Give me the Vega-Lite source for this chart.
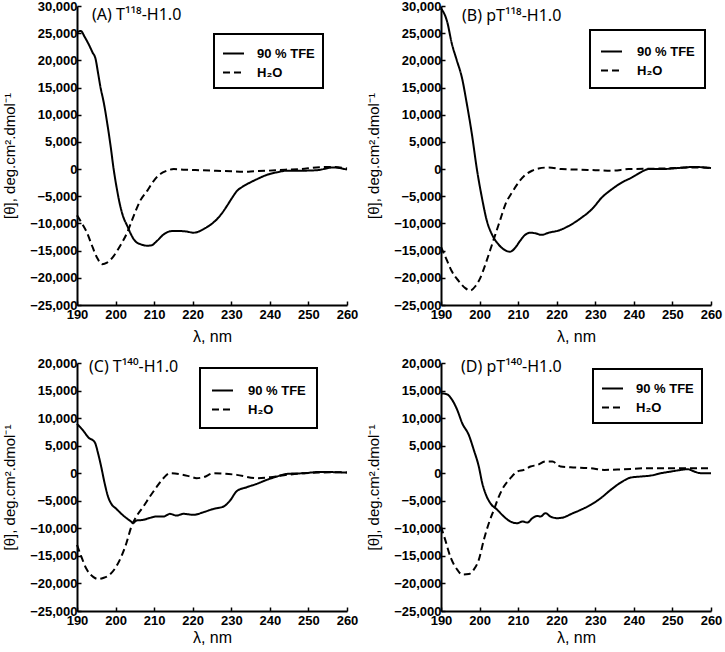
{
  "$schema": "https://vega.github.io/schema/vega-lite/v6.json",
  "padding": {"left": 2, "top": 0, "right": 2, "bottom": 2},
  "background": "white",
  "datasets": {
    "A": [
      {"series": "90 % TFE", "wl": 190, "theta": 25200}, {"series": "90 % TFE", "wl": 191, "theta": 25400}, {"series": "90 % TFE", "wl": 192, "theta": 24300}, {"series": "90 % TFE", "wl": 193, "theta": 23000}, {"series": "90 % TFE", "wl": 194, "theta": 21500}, {"series": "90 % TFE", "wl": 194.8, "theta": 20300}, {"series": "90 % TFE", "wl": 195.5, "theta": 17500}, {"series": "90 % TFE", "wl": 196, "theta": 15400}, {"series": "90 % TFE", "wl": 197, "theta": 12000}, {"series": "90 % TFE", "wl": 197.8, "theta": 8600}, {"series": "90 % TFE", "wl": 198.7, "theta": 4300}, {"series": "90 % TFE", "wl": 199.5, "theta": 0}, {"series": "90 % TFE", "wl": 200.3, "theta": -3500}, {"series": "90 % TFE", "wl": 201.2, "theta": -6750}, {"series": "90 % TFE", "wl": 202, "theta": -8800}, {"series": "90 % TFE", "wl": 203, "theta": -10400}, {"series": "90 % TFE", "wl": 204, "theta": -12000}, {"series": "90 % TFE", "wl": 204.7, "theta": -12900}, {"series": "90 % TFE", "wl": 205.5, "theta": -13500}, {"series": "90 % TFE", "wl": 206.4, "theta": -13800}, {"series": "90 % TFE", "wl": 207.3, "theta": -14000}, {"series": "90 % TFE", "wl": 208.2, "theta": -14100}, {"series": "90 % TFE", "wl": 209.4, "theta": -14000}, {"series": "90 % TFE", "wl": 210.3, "theta": -13500}, {"series": "90 % TFE", "wl": 211.2, "theta": -12900}, {"series": "90 % TFE", "wl": 212, "theta": -12300}, {"series": "90 % TFE", "wl": 212.9, "theta": -11800}, {"series": "90 % TFE", "wl": 213.8, "theta": -11500}, {"series": "90 % TFE", "wl": 214.6, "theta": -11400}, {"series": "90 % TFE", "wl": 216.8, "theta": -11400}, {"series": "90 % TFE", "wl": 218.5, "theta": -11500}, {"series": "90 % TFE", "wl": 220.2, "theta": -11700}, {"series": "90 % TFE", "wl": 221.5, "theta": -11500}, {"series": "90 % TFE", "wl": 222.8, "theta": -11050}, {"series": "90 % TFE", "wl": 224.5, "theta": -10300}, {"series": "90 % TFE", "wl": 226.3, "theta": -9200}, {"series": "90 % TFE", "wl": 227.6, "theta": -8100}, {"series": "90 % TFE", "wl": 228.9, "theta": -6750}, {"series": "90 % TFE", "wl": 230.2, "theta": -5300}, {"series": "90 % TFE", "wl": 231.5, "theta": -4000}, {"series": "90 % TFE", "wl": 232.8, "theta": -3300}, {"series": "90 % TFE", "wl": 234.1, "theta": -2760}, {"series": "90 % TFE", "wl": 236.7, "theta": -1840}, {"series": "90 % TFE", "wl": 239.3, "theta": -1040}, {"series": "90 % TFE", "wl": 241.8, "theta": -600}, {"series": "90 % TFE", "wl": 244.4, "theta": -300}, {"series": "90 % TFE", "wl": 247.9, "theta": -300}, {"series": "90 % TFE", "wl": 252.2, "theta": -200}, {"series": "90 % TFE", "wl": 256.5, "theta": 300}, {"series": "90 % TFE", "wl": 258, "theta": 200}, {"series": "90 % TFE", "wl": 260, "theta": -100},
      {"series": "H₂O", "wl": 190, "theta": -8500}, {"series": "H₂O", "wl": 191.3, "theta": -10000}, {"series": "H₂O", "wl": 192.6, "theta": -11700}, {"series": "H₂O", "wl": 193.9, "theta": -14100}, {"series": "H₂O", "wl": 195.2, "theta": -16300}, {"series": "H₂O", "wl": 196.5, "theta": -17500}, {"series": "H₂O", "wl": 197.8, "theta": -17200}, {"series": "H₂O", "wl": 199.5, "theta": -16000}, {"series": "H₂O", "wl": 201.2, "theta": -14100}, {"series": "H₂O", "wl": 203, "theta": -11700}, {"series": "H₂O", "wl": 204.7, "theta": -8600}, {"series": "H₂O", "wl": 206.4, "theta": -5800}, {"series": "H₂O", "wl": 208.2, "theta": -4000}, {"series": "H₂O", "wl": 209.9, "theta": -2150}, {"series": "H₂O", "wl": 211.6, "theta": -900}, {"series": "H₂O", "wl": 213.3, "theta": -300}, {"series": "H₂O", "wl": 215.1, "theta": 0}, {"series": "H₂O", "wl": 218, "theta": -100}, {"series": "H₂O", "wl": 222, "theta": -200}, {"series": "H₂O", "wl": 226, "theta": -300}, {"series": "H₂O", "wl": 230, "theta": -400}, {"series": "H₂O", "wl": 233.2, "theta": -500}, {"series": "H₂O", "wl": 236, "theta": -400}, {"series": "H₂O", "wl": 239.3, "theta": -300}, {"series": "H₂O", "wl": 244, "theta": -100}, {"series": "H₂O", "wl": 248, "theta": 0}, {"series": "H₂O", "wl": 252, "theta": 300}, {"series": "H₂O", "wl": 256.5, "theta": 400}, {"series": "H₂O", "wl": 260, "theta": 100}
    ],
    "B": [
      {"series": "90 % TFE", "wl": 190, "theta": 29500}, {"series": "90 % TFE", "wl": 190.3, "theta": 29250}, {"series": "90 % TFE", "wl": 191.6, "theta": 27100}, {"series": "90 % TFE", "wl": 192.8, "theta": 23100}, {"series": "90 % TFE", "wl": 194.1, "theta": 20000}, {"series": "90 % TFE", "wl": 195.4, "theta": 16900}, {"series": "90 % TFE", "wl": 196.7, "theta": 12000}, {"series": "90 % TFE", "wl": 198, "theta": 6470}, {"series": "90 % TFE", "wl": 199.3, "theta": 0}, {"series": "90 % TFE", "wl": 200.6, "theta": -5230}, {"series": "90 % TFE", "wl": 201.9, "theta": -9550}, {"series": "90 % TFE", "wl": 203.2, "theta": -12000}, {"series": "90 % TFE", "wl": 204.9, "theta": -13850}, {"series": "90 % TFE", "wl": 206.7, "theta": -14960}, {"series": "90 % TFE", "wl": 207.9, "theta": -15200}, {"series": "90 % TFE", "wl": 209.2, "theta": -14500}, {"series": "90 % TFE", "wl": 210.5, "theta": -13200}, {"series": "90 % TFE", "wl": 211.8, "theta": -12100}, {"series": "90 % TFE", "wl": 213.1, "theta": -11700}, {"series": "90 % TFE", "wl": 214.4, "theta": -11800}, {"series": "90 % TFE", "wl": 216.1, "theta": -12100}, {"series": "90 % TFE", "wl": 217.9, "theta": -11700}, {"series": "90 % TFE", "wl": 220.5, "theta": -11300}, {"series": "90 % TFE", "wl": 223, "theta": -10500}, {"series": "90 % TFE", "wl": 226.5, "theta": -8900}, {"series": "90 % TFE", "wl": 229.1, "theta": -7400}, {"series": "90 % TFE", "wl": 231.7, "theta": -5230}, {"series": "90 % TFE", "wl": 234.3, "theta": -3700}, {"series": "90 % TFE", "wl": 236.9, "theta": -2460}, {"series": "90 % TFE", "wl": 239.5, "theta": -1540}, {"series": "90 % TFE", "wl": 242, "theta": -500}, {"series": "90 % TFE", "wl": 243.8, "theta": 0}, {"series": "90 % TFE", "wl": 247.2, "theta": 0}, {"series": "90 % TFE", "wl": 251.5, "theta": 200}, {"series": "90 % TFE", "wl": 255.8, "theta": 400}, {"series": "90 % TFE", "wl": 258.4, "theta": 300}, {"series": "90 % TFE", "wl": 260, "theta": 200},
      {"series": "H₂O", "wl": 190, "theta": -14300}, {"series": "H₂O", "wl": 191.6, "theta": -16900}, {"series": "H₂O", "wl": 192.8, "theta": -18800}, {"series": "H₂O", "wl": 194.6, "theta": -20600}, {"series": "H₂O", "wl": 196.3, "theta": -21900}, {"series": "H₂O", "wl": 197.6, "theta": -22350}, {"series": "H₂O", "wl": 198.9, "theta": -21550}, {"series": "H₂O", "wl": 200.2, "theta": -20000}, {"series": "H₂O", "wl": 201.5, "theta": -17550}, {"series": "H₂O", "wl": 202.8, "theta": -14800}, {"series": "H₂O", "wl": 204.1, "theta": -12000}, {"series": "H₂O", "wl": 205.4, "theta": -9240}, {"series": "H₂O", "wl": 206.7, "theta": -6470}, {"series": "H₂O", "wl": 208.4, "theta": -4310}, {"series": "H₂O", "wl": 210.1, "theta": -2460}, {"series": "H₂O", "wl": 211.8, "theta": -1100}, {"series": "H₂O", "wl": 213.6, "theta": -300}, {"series": "H₂O", "wl": 215.3, "theta": 100}, {"series": "H₂O", "wl": 217.9, "theta": 300}, {"series": "H₂O", "wl": 221.3, "theta": 0}, {"series": "H₂O", "wl": 226, "theta": -100}, {"series": "H₂O", "wl": 230, "theta": -200}, {"series": "H₂O", "wl": 234.3, "theta": -300}, {"series": "H₂O", "wl": 238.6, "theta": 0}, {"series": "H₂O", "wl": 247.2, "theta": 100}, {"series": "H₂O", "wl": 255.8, "theta": 300}, {"series": "H₂O", "wl": 260, "theta": 200}
    ],
    "C": [
      {"series": "90 % TFE", "wl": 190, "theta": 8950}, {"series": "90 % TFE", "wl": 191.6, "theta": 7740}, {"series": "90 % TFE", "wl": 192.9, "theta": 6530}, {"series": "90 % TFE", "wl": 194.6, "theta": 5620}, {"series": "90 % TFE", "wl": 195.5, "theta": 3500}, {"series": "90 % TFE", "wl": 196.3, "theta": 1090}, {"series": "90 % TFE", "wl": 197.2, "theta": -1930}, {"series": "90 % TFE", "wl": 198.1, "theta": -4350}, {"series": "90 % TFE", "wl": 198.9, "theta": -5560}, {"series": "90 % TFE", "wl": 200.2, "theta": -6470}, {"series": "90 % TFE", "wl": 202, "theta": -7680}, {"series": "90 % TFE", "wl": 203.7, "theta": -8590}, {"series": "90 % TFE", "wl": 204.6, "theta": -9000}, {"series": "90 % TFE", "wl": 205.4, "theta": -8590}, {"series": "90 % TFE", "wl": 207.2, "theta": -8460}, {"series": "90 % TFE", "wl": 208.9, "theta": -8100}, {"series": "90 % TFE", "wl": 210.6, "theta": -7860}, {"series": "90 % TFE", "wl": 212.4, "theta": -7860}, {"series": "90 % TFE", "wl": 214.1, "theta": -7370}, {"series": "90 % TFE", "wl": 215.8, "theta": -7680}, {"series": "90 % TFE", "wl": 217.6, "theta": -7370}, {"series": "90 % TFE", "wl": 220.2, "theta": -7550}, {"series": "90 % TFE", "wl": 222.8, "theta": -7070}, {"series": "90 % TFE", "wl": 225.4, "theta": -6470}, {"series": "90 % TFE", "wl": 228, "theta": -6040}, {"series": "90 % TFE", "wl": 229.7, "theta": -4950}, {"series": "90 % TFE", "wl": 231.4, "theta": -3260}, {"series": "90 % TFE", "wl": 234, "theta": -2540}, {"series": "90 % TFE", "wl": 236.6, "theta": -1930}, {"series": "90 % TFE", "wl": 239.2, "theta": -1210}, {"series": "90 % TFE", "wl": 241.8, "theta": -600}, {"series": "90 % TFE", "wl": 244.4, "theta": -120}, {"series": "90 % TFE", "wl": 248.8, "theta": 0}, {"series": "90 % TFE", "wl": 253.1, "theta": 240}, {"series": "90 % TFE", "wl": 257.4, "theta": 180}, {"series": "90 % TFE", "wl": 260, "theta": 120},
      {"series": "H₂O", "wl": 190, "theta": -13000}, {"series": "H₂O", "wl": 191.1, "theta": -15100}, {"series": "H₂O", "wl": 192.4, "theta": -17300}, {"series": "H₂O", "wl": 194.2, "theta": -18800}, {"series": "H₂O", "wl": 195.5, "theta": -19200}, {"series": "H₂O", "wl": 196.8, "theta": -19000}, {"series": "H₂O", "wl": 198.5, "theta": -18400}, {"series": "H₂O", "wl": 200.2, "theta": -16900}, {"series": "H₂O", "wl": 201.5, "theta": -15100}, {"series": "H₂O", "wl": 202.8, "theta": -12700}, {"series": "H₂O", "wl": 204.1, "theta": -9700}, {"series": "H₂O", "wl": 205.4, "theta": -7860}, {"series": "H₂O", "wl": 207.2, "theta": -6050}, {"series": "H₂O", "wl": 208.9, "theta": -4230}, {"series": "H₂O", "wl": 210.6, "theta": -2540}, {"series": "H₂O", "wl": 212.4, "theta": -900}, {"series": "H₂O", "wl": 214.1, "theta": 0}, {"series": "H₂O", "wl": 216.7, "theta": -180}, {"series": "H₂O", "wl": 219.3, "theta": -600}, {"series": "H₂O", "wl": 221, "theta": -900}, {"series": "H₂O", "wl": 222.8, "theta": -720}, {"series": "H₂O", "wl": 225.4, "theta": 0}, {"series": "H₂O", "wl": 231.4, "theta": -300}, {"series": "H₂O", "wl": 236.6, "theta": -900}, {"series": "H₂O", "wl": 240.1, "theta": -720}, {"series": "H₂O", "wl": 244.4, "theta": -300}, {"series": "H₂O", "wl": 248.8, "theta": 0}, {"series": "H₂O", "wl": 257.4, "theta": 180}, {"series": "H₂O", "wl": 260, "theta": 120}
    ],
    "D": [
      {"series": "90 % TFE", "wl": 190, "theta": 14500}, {"series": "90 % TFE", "wl": 191.6, "theta": 14300}, {"series": "90 % TFE", "wl": 192.9, "theta": 13300}, {"series": "90 % TFE", "wl": 194.2, "theta": 11500}, {"series": "90 % TFE", "wl": 195.5, "theta": 9070}, {"series": "90 % TFE", "wl": 197.2, "theta": 6950}, {"series": "90 % TFE", "wl": 198.5, "theta": 4230}, {"series": "90 % TFE", "wl": 199.8, "theta": 1210}, {"series": "90 % TFE", "wl": 200.7, "theta": -1810}, {"series": "90 % TFE", "wl": 201.5, "theta": -3630}, {"series": "90 % TFE", "wl": 202.8, "theta": -5440}, {"series": "90 % TFE", "wl": 204.6, "theta": -6650}, {"series": "90 % TFE", "wl": 206.3, "theta": -7860}, {"series": "90 % TFE", "wl": 208, "theta": -8770}, {"series": "90 % TFE", "wl": 209.8, "theta": -9070}, {"series": "90 % TFE", "wl": 211.1, "theta": -8770}, {"series": "90 % TFE", "wl": 212.4, "theta": -8950}, {"series": "90 % TFE", "wl": 213.7, "theta": -8160}, {"series": "90 % TFE", "wl": 215, "theta": -7740}, {"series": "90 % TFE", "wl": 215.8, "theta": -7860}, {"series": "90 % TFE", "wl": 217.1, "theta": -7260}, {"series": "90 % TFE", "wl": 218.4, "theta": -7860}, {"series": "90 % TFE", "wl": 220.2, "theta": -8160}, {"series": "90 % TFE", "wl": 221.9, "theta": -7980}, {"series": "90 % TFE", "wl": 223.6, "theta": -7440}, {"series": "90 % TFE", "wl": 226.2, "theta": -6650}, {"series": "90 % TFE", "wl": 228.8, "theta": -5740}, {"series": "90 % TFE", "wl": 231.4, "theta": -4530}, {"series": "90 % TFE", "wl": 234, "theta": -3020}, {"series": "90 % TFE", "wl": 236.6, "theta": -1690}, {"series": "90 % TFE", "wl": 239.2, "theta": -790}, {"series": "90 % TFE", "wl": 241.8, "theta": -600}, {"series": "90 % TFE", "wl": 244.4, "theta": -420}, {"series": "90 % TFE", "wl": 247, "theta": 0}, {"series": "90 % TFE", "wl": 249.6, "theta": 300}, {"series": "90 % TFE", "wl": 252.2, "theta": 600}, {"series": "90 % TFE", "wl": 254, "theta": 730}, {"series": "90 % TFE", "wl": 255.7, "theta": 300}, {"series": "90 % TFE", "wl": 257.4, "theta": 0}, {"series": "90 % TFE", "wl": 260, "theta": 0},
      {"series": "H₂O", "wl": 190, "theta": -9700}, {"series": "H₂O", "wl": 191.1, "theta": -12100}, {"series": "H₂O", "wl": 192.4, "theta": -15100}, {"series": "H₂O", "wl": 194.2, "theta": -17500}, {"series": "H₂O", "wl": 195.5, "theta": -18400}, {"series": "H₂O", "wl": 197.2, "theta": -18300}, {"series": "H₂O", "wl": 198.5, "theta": -17500}, {"series": "H₂O", "wl": 199.8, "theta": -15700}, {"series": "H₂O", "wl": 201.1, "theta": -12100}, {"series": "H₂O", "wl": 202.4, "theta": -9070}, {"series": "H₂O", "wl": 203.7, "theta": -6650}, {"series": "H₂O", "wl": 205, "theta": -4230}, {"series": "H₂O", "wl": 206.3, "theta": -2420}, {"series": "H₂O", "wl": 208, "theta": -900}, {"series": "H₂O", "wl": 209.8, "theta": 300}, {"series": "H₂O", "wl": 211.5, "theta": 600}, {"series": "H₂O", "wl": 213.2, "theta": 1210}, {"series": "H₂O", "wl": 215, "theta": 1510}, {"series": "H₂O", "wl": 217.1, "theta": 2120}, {"series": "H₂O", "wl": 218.9, "theta": 2120}, {"series": "H₂O", "wl": 221, "theta": 1210}, {"series": "H₂O", "wl": 223.6, "theta": 1090}, {"series": "H₂O", "wl": 228.8, "theta": 900}, {"series": "H₂O", "wl": 232.3, "theta": 600}, {"series": "H₂O", "wl": 237.5, "theta": 730}, {"series": "H₂O", "wl": 243.6, "theta": 900}, {"series": "H₂O", "wl": 247.9, "theta": 900}, {"series": "H₂O", "wl": 252.2, "theta": 900}, {"series": "H₂O", "wl": 256.5, "theta": 900}, {"series": "H₂O", "wl": 260, "theta": 900}
    ]
  },
  "vconcat": [
    {
      "hconcat": [
        {
          "width": 270, "height": 299,
          "title": {"text": "(A) T¹¹⁸-H1.0", "anchor": "start", "frame": "group", "orient": "top", "offset": -36, "baseline": "alphabetic", "dx": 15},
          "data": {"name": "A"},
          "mark": {"type": "line", "color": "black", "strokeWidth": 2, "interpolate": "monotone"},
          "encoding": {
            "x": {"field": "wl", "type": "quantitative", "scale": {"domain": [190, 260], "nice": false, "zero": false}, "axis": {"values": [190, 200, 210, 220, 230, 240, 250, 260], "title": "λ, nm", "titlePadding": 7}},
            "y": {"field": "theta", "type": "quantitative", "scale": {"domain": [-25000, 30000], "nice": false}, "axis": {"values": [-25000, -20000, -15000, -10000, -5000, 0, 5000, 10000, 15000, 20000, 25000, 30000], "format": ",d", "title": "[θ], deg.cm².dmol⁻¹"}},
            "strokeDash": {"field": "series", "type": "nominal", "scale": {"domain": ["90 % TFE", "H₂O"], "range": [[1, 0], [7, 4]]}, "legend": {"legendX": 137, "legendY": 28}}
          }
        },
        {
          "width": 270, "height": 299,
          "title": {"text": "(B) pT¹¹⁸-H1.0", "anchor": "start", "frame": "group", "orient": "top", "offset": -37, "baseline": "alphabetic", "dx": 21},
          "data": {"name": "B"},
          "mark": {"type": "line", "color": "black", "strokeWidth": 2, "interpolate": "monotone"},
          "encoding": {
            "x": {"field": "wl", "type": "quantitative", "scale": {"domain": [190, 260], "nice": false, "zero": false}, "axis": {"values": [190, 200, 210, 220, 230, 240, 250, 260], "title": "λ, nm", "titlePadding": 7}},
            "y": {"field": "theta", "type": "quantitative", "scale": {"domain": [-25000, 30000], "nice": false}, "axis": {"values": [-25000, -20000, -15000, -10000, -5000, 0, 5000, 10000, 15000, 20000, 25000, 30000], "format": ",d", "title": "[θ], deg.cm².dmol⁻¹"}},
            "strokeDash": {"field": "series", "type": "nominal", "scale": {"domain": ["90 % TFE", "H₂O"], "range": [[1, 0], [7, 4]]}, "legend": {"legendX": 149, "legendY": 24, "padding": 10, "labelOffset": 14}}
          }
        }
      ],
      "spacing": 94, "bounds": "flush",
      "resolve": {"scale": {"strokeDash": "independent"}, "legend": {"strokeDash": "independent"}}
    },
    {
      "hconcat": [
        {
          "width": 270, "height": 248,
          "title": {"text": "(C) T¹⁴⁰-H1.0", "anchor": "start", "frame": "group", "orient": "top", "offset": -31, "baseline": "alphabetic", "dx": 12},
          "data": {"name": "C"},
          "mark": {"type": "line", "color": "black", "strokeWidth": 2, "interpolate": "monotone"},
          "encoding": {
            "x": {"field": "wl", "type": "quantitative", "scale": {"domain": [190, 260], "nice": false, "zero": false}, "axis": {"values": [190, 200, 210, 220, 230, 240, 250, 260], "title": "λ, nm", "titlePadding": 2}},
            "y": {"field": "theta", "type": "quantitative", "scale": {"domain": [-25000, 20000], "nice": false}, "axis": {"values": [-25000, -20000, -15000, -10000, -5000, 0, 5000, 10000, 15000, 20000], "format": ",d", "title": "[θ], deg.cm².dmol⁻¹"}},
            "strokeDash": {"field": "series", "type": "nominal", "scale": {"domain": ["90 % TFE", "H₂O"], "range": [[1, 0], [7, 4]]}, "legend": {"legendX": 123, "legendY": 5, "padding": 11, "labelOffset": 14}}
          }
        },
        {
          "width": 270, "height": 248,
          "title": {"text": "(D) pT¹⁴⁰-H1.0", "anchor": "start", "frame": "group", "orient": "top", "offset": -31, "baseline": "alphabetic", "dx": 20},
          "data": {"name": "D"},
          "mark": {"type": "line", "color": "black", "strokeWidth": 2, "interpolate": "monotone"},
          "encoding": {
            "x": {"field": "wl", "type": "quantitative", "scale": {"domain": [190, 260], "nice": false, "zero": false}, "axis": {"values": [190, 200, 210, 220, 230, 240, 250, 260], "title": "λ, nm", "titlePadding": 2}},
            "y": {"field": "theta", "type": "quantitative", "scale": {"domain": [-25000, 20000], "nice": false}, "axis": {"values": [-25000, -20000, -15000, -10000, -5000, 0, 5000, 10000, 15000, 20000], "format": ",d", "title": "[θ], deg.cm².dmol⁻¹"}},
            "strokeDash": {"field": "series", "type": "nominal", "scale": {"domain": ["90 % TFE", "H₂O"], "range": [[1, 0], [7, 4]]}, "legend": {"legendX": 152, "legendY": 6}}
          }
        }
      ],
      "spacing": 94, "bounds": "flush",
      "resolve": {"scale": {"strokeDash": "independent"}, "legend": {"strokeDash": "independent"}}
    }
  ],
  "spacing": 13,
  "resolve": {"scale": {"strokeDash": "independent"}, "legend": {"strokeDash": "independent"}},
  "config": {
    "view": {"stroke": null},
    "font": "Liberation Sans",
    "title": {"font": "Noto Sans", "fontSize": 16, "fontWeight": "normal", "color": "black"},
    "axis": {"domainColor": "black", "domainWidth": 2, "tickColor": "black", "tickWidth": 1.5, "tickSize": -4, "grid": false, "labelFont": "Liberation Sans", "labelFontSize": 13, "labelFontWeight": "bold", "labelColor": "black", "labelPadding": 7, "titleFont": "Liberation Sans", "titleFontSize": 16, "titleFontWeight": "normal", "titleColor": "black", "labelFlush": false, "labelOverlap": false},
    "axisQuantitative": {"labelOverlap": false},
    "axisY": {"titleFontSize": 15, "labelPadding": 4, "titlePadding": 12, "grid": true, "gridColor": "#444", "gridWidth": 1, "gridOpacity": {"condition": {"test": "datum.value === 0", "value": 1}, "value": 0}},
    "legend": {"orient": "none", "title": null, "strokeColor": "black", "strokeWidth": 2, "fillColor": "white", "padding": 8, "symbolType": "stroke", "symbolSize": 441, "symbolStrokeWidth": 2, "symbolStrokeColor": "black", "labelFont": "Liberation Sans", "labelFontSize": 13, "labelFontWeight": "bold", "labelColor": "black", "labelOffset": 12, "rowPadding": -1}
  }
}
